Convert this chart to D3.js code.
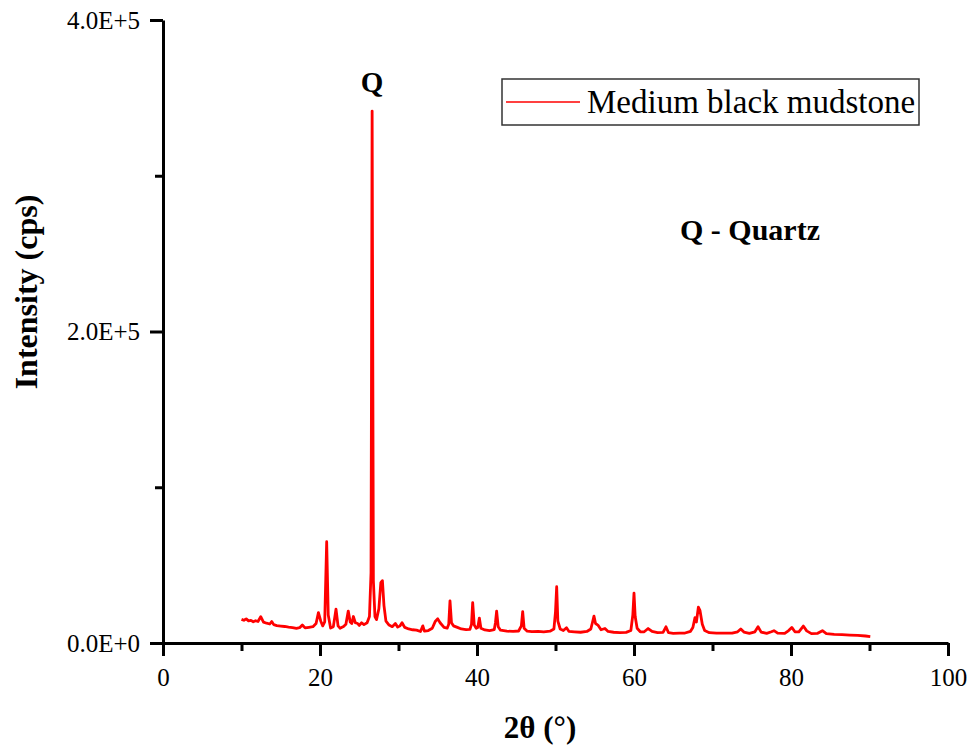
<!DOCTYPE html>
<html lang="en">
<head>
    <meta charset="UTF-8">
    <title>XRD - Medium black mudstone</title>
    <script src="https://d3js.org/d3.v7.min.js"></script>
    <style>
        body {
            margin: 0;
            padding: 0;
            background: #fff;
        }
        svg text {
            font-family: "Liberation Serif", "DejaVu Serif", serif;
            fill: #000;
        }
        .axis path,
        .axis line {
            stroke: #000;
            stroke-width: 3;
        }
        .axis text {
            font-size: 25px;
            font-family: "Liberation Serif", serif;
        }
    </style>
</head>
<body>
    <svg id="chart"></svg>

    <script>
        // 2θ (°)
        const twoTheta = [
            10.0, 10.3, 10.6, 10.9, 11.2, 11.5, 11.8, 12.1, 12.45, 12.8,
            13.2, 13.6, 13.85, 14.1, 14.5, 15.0, 15.5, 16.0, 16.5, 17.0,
            17.4, 17.75, 18.1, 18.6, 19.1, 19.5, 19.8, 20.1, 20.35, 20.6,
            20.85, 21.05, 21.35, 21.7, 22.04, 22.3, 22.55, 23.0, 23.3, 23.6,
            23.85, 24.05, 24.25, 24.5, 24.8, 25.0, 25.3, 25.6, 26.0, 26.3,
            26.5, 26.64, 26.8, 27.0, 27.2, 27.5, 27.75, 27.95, 28.15, 28.4,
            28.8, 29.2, 29.6, 29.9, 30.2, 30.45, 30.8, 31.3, 31.8, 32.3,
            32.8, 33.1, 33.3, 33.8, 34.3, 34.7, 35.0, 35.3, 35.8, 36.2,
            36.4, 36.56, 36.75, 37.0, 37.5, 38.0, 38.6, 39.1, 39.3, 39.45,
            39.65, 39.9, 40.1, 40.3, 40.5, 41.0, 41.6, 42.2, 42.35, 42.5,
            42.7, 43.0, 43.8, 44.6, 45.3, 45.65, 45.82, 46.0, 46.4, 47.0,
            47.8, 48.5, 49.3, 49.8, 50.0, 50.15, 50.3, 50.6, 51.0, 51.4,
            51.7, 52.4, 53.2, 54.0, 54.5, 54.7, 54.9, 55.1, 55.4, 55.8,
            56.3, 56.7, 57.4, 58.2, 59.0, 59.6, 59.85, 60.0, 60.15, 60.4,
            60.8, 61.3, 61.8, 62.3, 63.0, 63.7, 64.07, 64.4, 65.0, 65.8,
            66.5, 67.2, 67.5, 67.77, 67.95, 68.2, 68.4, 68.7, 69.0, 69.6,
            70.5, 71.5, 72.5, 73.2, 73.6, 74.0, 74.7, 75.4, 75.8, 76.2,
            76.9, 77.5, 77.83, 78.3, 79.2, 79.7, 80.1, 80.5, 81.0, 81.57,
            82.0, 82.6, 83.4, 84.0, 84.5, 85.5, 86.5, 87.5, 88.5, 89.5,
            90.1
        ];

        // Intensity (cps) at each 2θ above
        const intensity = [
            15200, 14600, 15500, 14200, 14500, 13600, 14300, 13800, 16900, 13400,
            12700, 12200, 13800, 11800, 11200, 10900, 10600, 10200, 9900, 9400,
            9800, 11600, 9700, 10100, 10500, 12500, 19500, 14000, 11000, 13500,
            65000, 18000, 9600, 10500, 21800, 11000, 9500, 10600, 12000, 20500,
            13500, 12500, 17000, 13000, 12500, 11300, 13000, 11800, 13000, 17000,
            45000, 341500, 40000, 17000, 15000, 22000, 38700, 40000, 24000, 14000,
            11500, 10500, 12500, 10200, 11000, 13000, 10000, 9000, 8500, 8300,
            7400, 11000, 7600, 8000, 9500, 14000, 15500, 13000, 10000, 9500,
            12000, 27000, 13000, 11000, 10000, 9000, 8600, 8800, 12000, 25900,
            11500, 9500, 10000, 16000, 9500, 8400, 8000, 8600, 13000, 20500,
            10500, 8200, 7600, 7400, 7700, 11000, 20100, 9500, 7600, 7300,
            7500, 7200, 7600, 9000, 20000, 36150, 14000, 9000, 8000, 9800,
            7500, 7200, 6900, 7400, 9000, 13000, 17300, 12500, 11500, 8500,
            9300, 7400, 6900, 6700, 6800, 8000, 18000, 32000, 17000, 9500,
            7200, 7200, 9300, 7400, 6600, 6800, 10400, 6600, 6200, 6400,
            6400, 7500, 10000, 16300, 13500, 23000, 21000, 12000, 8000, 6600,
            6300, 6400, 6300, 7200, 9000, 7000, 6200, 7200, 10400, 7000,
            6200, 7200, 7900, 6300, 6200, 8000, 10000, 7200, 7200, 10900,
            7800, 6000, 6200, 7900, 6000, 5600, 5400, 5100, 4900, 4500,
            4100
        ];

        const xTicks = [0, 20, 40, 60, 80, 100];
        const xMinorTicks = [10, 30, 50, 70, 90];
        const yTicks = [0, 200000, 400000];
        const yTickLabels = ["0.0E+0", "2.0E+5", "4.0E+5"];
        const yMinorTicks = [100000, 300000];

        const seriesName = "Medium black mudstone";

        const W = 976, H = 752;
        const margin = { top: 20, right: 28, bottom: 109, left: 163 };

        const svg = d3.select("#chart")
            .attr("width", W)
            .attr("height", H);

        const x = d3.scaleLinear().domain([0, 100]).range([margin.left, W - margin.right]);
        const y = d3.scaleLinear().domain([0, 400000]).range([H - margin.bottom, margin.top]);

        const data = twoTheta.map((t, i) => [t, intensity[i]]);

        // 曲线
        svg.append("path")
            .datum(data)
            .attr("fill", "none")
            .attr("stroke", "#ff0000")
            .attr("stroke-width", 2.8)
            .attr("stroke-linejoin", "round")
            .attr("d", d3.line().x(d => x(d[0])).y(d => y(d[1])));

        // minor ticks
        svg.append("g")
            .attr("class", "axis")
            .attr("transform", `translate(0, ${y(0)})`)
            .call(d3.axisBottom(x).tickValues(xMinorTicks).tickSize(8).tickFormat(""))
            .call(g => g.select(".domain").remove());

        svg.append("g")
            .attr("class", "axis")
            .attr("transform", `translate(${x(0)}, 0)`)
            .call(d3.axisLeft(y).tickValues(yMinorTicks).tickSize(8).tickFormat(""))
            .call(g => g.select(".domain").remove());

        // x axis
        svg.append("g")
            .attr("class", "axis")
            .attr("transform", `translate(0, ${y(0)})`)
            .call(d3.axisBottom(x).tickValues(xTicks).tickSize(13).tickSizeOuter(0).tickPadding(12));

        // y axis
        svg.append("g")
            .attr("class", "axis")
            .attr("transform", `translate(${x(0)}, 0)`)
            .call(d3.axisLeft(y).tickValues(yTicks).tickSize(13).tickSizeOuter(0).tickPadding(10)
                .tickFormat((d, i) => yTickLabels[i]));

        // axis titles
        svg.append("text")
            .attr("x", 540)
            .attr("y", 738)
            .attr("text-anchor", "middle")
            .style("font-size", "31px")
            .style("font-weight", "bold")
            .text("2θ (°)");

        svg.append("text")
            .attr("transform", "translate(37, 292) rotate(-90)")
            .attr("text-anchor", "middle")
            .style("font-size", "32px")
            .style("font-weight", "bold")
            .text("Intensity (cps)");

        // annotations
        svg.append("text")
            .attr("x", x(26.64))
            .attr("y", 92)
            .attr("text-anchor", "middle")
            .style("font-size", "29px")
            .style("font-weight", "bold")
            .text("Q");

        svg.append("text")
            .attr("x", 680)
            .attr("y", 240)
            .style("font-size", "30px")
            .style("font-weight", "bold")
            .text("Q - Quartz");

        // legend
        const legend = svg.append("g").attr("transform", "translate(502, 79)");
        legend.append("rect")
            .attr("width", 417)
            .attr("height", 46)
            .attr("fill", "#fff")
            .attr("stroke", "#333")
            .attr("stroke-width", 1.5);
        legend.append("line")
            .attr("x1", 4).attr("x2", 78)
            .attr("y1", 23).attr("y2", 23)
            .attr("stroke", "#ff0000")
            .attr("stroke-width", 1.5);
        legend.append("text")
            .attr("x", 85)
            .attr("y", 34)
            .style("font-size", "33px")
            .text(seriesName);
    </script>
</body>
</html>
